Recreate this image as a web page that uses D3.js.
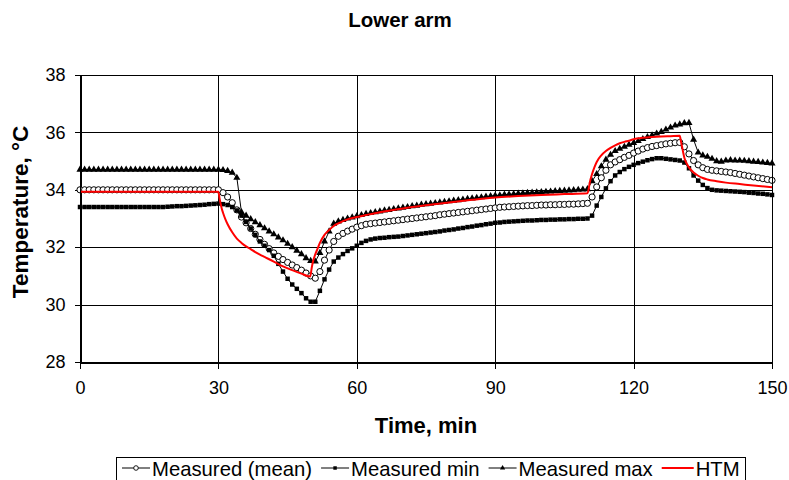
<!DOCTYPE html>
<html>
<head>
<meta charset="utf-8">
<script src="https://cdn.jsdelivr.net/npm/d3@7"></script>
<style>
  body { margin: 0; background: #fff; }
  svg { display: block; font-family: "Liberation Sans", Arial, sans-serif; }
</style>
</head>
<body>
<svg id="chart" width="789" height="480"></svg>
<script>
// ---- data ----
const minutes = d3.range(0, 151);
const xTicks = [0, 30, 60, 90, 120, 150];
const yTicks = [28, 30, 32, 34, 36, 38];

const measuredMean = [
  34.0,34.0,34.0,34.0,34.0,34.0,34.0,34.0,34.0,34.0,
  34.0,34.0,34.0,34.0,34.0,34.0,34.0,34.0,34.0,34.0,
  34.0,34.0,34.0,34.0,34.0,34.0,34.0,34.0,34.0,34.0,
  34.0,33.9,33.75,33.55,33.3,33.05,32.85,32.65,32.45,32.27,
  32.1,31.95,31.8,31.68,31.57,31.47,31.38,31.29,31.2,31.1,
  31.0,30.92,31.15,31.55,31.9,32.2,32.38,32.48,32.56,32.63,
  32.7,32.75,32.8,32.82,32.84,32.86,32.88,32.9,32.92,32.94,
  32.96,32.98,33.0,33.02,33.04,33.06,33.08,33.1,33.13,33.15,
  33.17,33.19,33.21,33.23,33.25,33.27,33.29,33.31,33.33,33.35,
  33.37,33.39,33.4,33.41,33.42,33.43,33.44,33.45,33.45,33.46,
  33.47,33.47,33.48,33.48,33.49,33.49,33.5,33.5,33.51,33.52,
  33.53,33.75,34.1,34.42,34.68,34.87,34.97,35.05,35.13,35.2,
  35.28,35.35,35.42,35.47,35.51,35.54,35.57,35.6,35.62,35.64,
  35.65,35.5,35.25,35.02,34.87,34.77,34.71,34.68,34.66,34.64,
  34.62,34.6,34.57,34.54,34.51,34.48,34.45,34.42,34.39,34.36,
  34.33
];

const measuredMin = [
  33.4,33.4,33.4,33.4,33.4,33.4,33.4,33.4,33.4,33.4,
  33.4,33.4,33.4,33.4,33.4,33.4,33.4,33.4,33.4,33.41,
  33.42,33.43,33.43,33.44,33.45,33.46,33.47,33.48,33.5,33.51,
  33.52,33.5,33.47,33.4,33.28,33.1,32.88,32.65,32.43,32.2,
  32.05,31.9,31.7,31.42,31.15,30.9,30.7,30.55,30.4,30.22,
  30.1,30.1,30.48,30.88,31.22,31.5,31.64,31.76,31.87,31.96,
  32.05,32.15,32.22,32.27,32.3,32.32,32.33,32.35,32.36,32.37,
  32.39,32.41,32.43,32.45,32.47,32.49,32.51,32.53,32.55,32.58,
  32.6,32.62,32.65,32.67,32.7,32.72,32.75,32.77,32.8,32.82,
  32.85,32.86,32.88,32.89,32.9,32.91,32.92,32.93,32.93,32.94,
  32.95,32.95,32.96,32.96,32.97,32.97,32.98,32.98,32.99,32.99,
  33.0,33.1,33.45,33.75,34.05,34.3,34.5,34.62,34.72,34.8,
  34.87,34.93,34.98,35.03,35.07,35.1,35.1,35.08,35.06,35.04,
  35.02,34.95,34.75,34.5,34.32,34.17,34.06,34.0,33.98,33.97,
  33.96,33.95,33.94,33.93,33.92,33.9,33.89,33.87,33.86,33.84,
  33.82
];

const measuredMax = [
  34.7,34.7,34.7,34.7,34.7,34.7,34.7,34.7,34.7,34.7,
  34.7,34.7,34.7,34.7,34.7,34.7,34.7,34.7,34.7,34.7,
  34.7,34.7,34.7,34.7,34.7,34.7,34.7,34.7,34.7,34.7,
  34.7,34.69,34.66,34.6,34.42,33.22,33.1,32.98,32.87,32.77,
  32.66,32.55,32.45,32.34,32.24,32.12,32.0,31.88,31.76,31.62,
  31.52,31.5,31.8,32.2,32.55,32.82,32.9,32.95,33.0,33.04,
  33.08,33.12,33.16,33.19,33.22,33.25,33.28,33.3,33.33,33.35,
  33.38,33.4,33.43,33.45,33.48,33.5,33.52,33.54,33.56,33.58,
  33.6,33.62,33.64,33.66,33.68,33.7,33.72,33.74,33.76,33.78,
  33.8,33.81,33.83,33.84,33.85,33.87,33.88,33.89,33.9,33.91,
  33.92,33.93,33.94,33.95,33.96,33.97,33.98,33.99,34.0,34.01,
  34.02,34.3,34.55,34.82,35.05,35.22,35.35,35.43,35.5,35.57,
  35.63,35.7,35.77,35.84,35.9,35.96,36.02,36.1,36.17,36.24,
  36.28,36.32,36.33,35.75,35.3,35.2,35.15,35.08,35.0,34.98,
  35.02,35.03,35.02,35.02,35.01,35.0,34.98,34.97,34.95,34.94,
  34.92
];

const htmTime = [
  0,10,20,30,30.25,30.5,30.75,31,31.5,32,33,34,35,36,37,38,39,40,42,44,46,48,49.9,
  50.25,50.5,51,51.5,52,53,54,55,56,57,58,60,62,65,70,75,80,85,90,95,100,105,110,
  110.25,110.5,111,111.5,112,113,114,115,116,117,118,119,120,122,124,126,128,130,
  130.25,130.5,130.75,131,131.5,132,133,134,135,136,138,140,143,146,150
];
const htmTemp = [
  33.93,33.93,33.93,33.93,33.7,33.5,33.33,33.2,32.98,32.8,32.52,32.3,32.15,32.03,31.93,31.83,31.74,31.66,31.5,31.33,31.2,31.08,30.98,
  31.3,31.5,31.75,31.95,32.15,32.43,32.6,32.74,32.83,32.91,32.97,33.05,33.12,33.22,33.35,33.46,33.56,33.65,33.73,33.78,33.82,33.85,33.88,
  34.02,34.25,34.55,34.78,34.97,35.2,35.35,35.46,35.55,35.62,35.67,35.71,35.76,35.81,35.84,35.86,35.87,35.88,
  35.7,35.5,35.3,35.12,34.92,34.78,34.6,34.49,34.41,34.36,34.3,34.25,34.2,34.15,34.09
];

const legendLabels = ["Measured (mean)", "Measured min", "Measured max", "HTM"];

// ---- layout ----
const svg = d3.select("#chart");
const W = 789, H = 480;
const m = { left: 80, right: 772, top: 75, bottom: 362 };

const x = d3.scaleLinear().domain([0, 150]).range([m.left, m.right]);
const y = d3.scaleLinear().domain([28, 38]).range([m.bottom, m.top]);

svg.append("rect").attr("width", W).attr("height", H).attr("fill", "#fff");

// title
svg.append("text").attr("x", 400).attr("y", 27).attr("text-anchor", "middle")
  .attr("font-weight", "bold").attr("font-size", 20.5).text("Lower arm");

// gridlines
const grid = svg.append("g").attr("shape-rendering", "crispEdges");
grid.selectAll("line.h").data(yTicks).join("line")
  .attr("x1", m.left).attr("x2", m.right)
  .attr("y1", d => Math.round(y(d)) + 0.5).attr("y2", d => Math.round(y(d)) + 0.5)
  .attr("stroke", "#000").attr("stroke-width", 1);
grid.selectAll("line.v").data(xTicks).join("line")
  .attr("y1", m.top).attr("y2", m.bottom)
  .attr("x1", d => Math.round(x(d)) + 0.5).attr("x2", d => Math.round(x(d)) + 0.5)
  .attr("stroke", "#000").attr("stroke-width", 1);

// axes
const xAxis = d3.axisBottom(x).tickValues(xTicks).tickSize(6).tickPadding(13).tickFormat(d3.format("d"));
const yAxis = d3.axisLeft(y).tickValues(yTicks).tickSize(6).tickPadding(9).tickFormat(d3.format("d"));
const gx = svg.append("g").attr("transform", `translate(0,${Math.round(m.bottom) + 0.5})`).call(xAxis);
const gy = svg.append("g").attr("transform", `translate(${Math.round(m.left) + 0.5},0)`).call(yAxis);
[gx, gy].forEach(g => {
  g.select(".domain").attr("stroke", "#000").attr("shape-rendering", "crispEdges");
  g.selectAll(".tick line").attr("stroke", "#000").attr("shape-rendering", "crispEdges");
  g.selectAll(".tick text").attr("font-size", 18).attr("fill", "#000")
    .attr("font-family", "'Liberation Sans', Arial, sans-serif");
});

// axis titles
svg.append("text").attr("x", (m.left + m.right) / 2).attr("y", 433).attr("text-anchor", "middle")
  .attr("font-weight", "bold").attr("font-size", 22).text("Time, min");
svg.append("text").attr("transform", `translate(28,212) rotate(-90)`)
  .attr("text-anchor", "middle").attr("font-weight", "bold").attr("font-size", 22.5)
  .text("Temperature, °C");

// series
const line = d3.line().x(d => x(d[0])).y(d => y(d[1]));
const sq = d3.symbol().type(d3.symbolSquare).size(20);
const tri = d3.symbol().type(d3.symbolTriangle).size(22);

function drawSeries(vals, kind) {
  const pts = minutes.map((t, i) => [t, vals[i]]);
  const g = svg.append("g");
  g.append("path").attr("d", line(pts)).attr("fill", "none").attr("stroke", "#000").attr("stroke-width", 1);
  if (kind === "circle") {
    g.selectAll("circle").data(pts).join("circle")
      .attr("cx", d => x(d[0])).attr("cy", d => y(d[1])).attr("r", 3.1)
      .attr("fill", "#fff").attr("stroke", "#000").attr("stroke-width", 1);
  } else {
    g.selectAll("path.m").data(pts).join("path").attr("class", "m")
      .attr("d", kind === "square" ? sq : tri)
      .attr("transform", d => `translate(${x(d[0])},${y(d[1])})`)
      .attr("fill", "#000");
  }
}
drawSeries(measuredMean, "circle");
drawSeries(measuredMin, "square");
drawSeries(measuredMax, "triangle");

const htmPts = htmTime.map((t, i) => [t, htmTemp[i]]);
svg.append("path").attr("d", d3.line().x(d => x(d[0])).y(d => y(d[1])).curve(d3.curveMonotoneX)(htmPts))
  .attr("fill", "none").attr("stroke", "#ff0000").attr("stroke-width", 2);

// plot border
svg.append("rect").attr("x", Math.round(m.left) + 0.5).attr("y", Math.round(m.top) + 0.5)
  .attr("width", Math.round(m.right) - Math.round(m.left)).attr("height", Math.round(m.bottom) - Math.round(m.top))
  .attr("fill", "none").attr("stroke", "#000").attr("shape-rendering", "crispEdges");

// legend
const lg = svg.append("g");
const legBox = { x: 116, y: 457, w: 629, h: 40 };
lg.append("rect").attr("x", legBox.x + 0.5).attr("y", legBox.y + 0.5).attr("width", legBox.w).attr("height", legBox.h)
  .attr("fill", "#fff").attr("stroke", "#000").attr("shape-rendering", "crispEdges");
let cx = legBox.x + 6;
const ly = 468;
legendLabels.forEach((lab, i) => {
  const sw = i === 3 ? 32 : 28;
  const col = i === 3 ? "#ff0000" : "#000";
  lg.append("line").attr("x1", cx).attr("x2", cx + sw).attr("y1", ly).attr("y2", ly)
    .attr("stroke", col).attr("stroke-width", i === 3 ? 2 : 1);
  const mx = cx + sw / 2;
  if (i === 0) lg.append("circle").attr("cx", mx).attr("cy", ly).attr("r", 2.3).attr("fill", "#fff").attr("stroke", "#000").attr("stroke-width", 0.9);
  if (i === 1) lg.append("path").attr("d", d3.symbol().type(d3.symbolSquare).size(12)).attr("transform", `translate(${mx},${ly})`);
  if (i === 2) lg.append("path").attr("d", d3.symbol().type(d3.symbolTriangle).size(12)).attr("transform", `translate(${mx},${ly})`);
  const t = lg.append("text").attr("x", cx + sw + 2).attr("y", ly + 8).attr("font-size", 20.3).text(lab);
  cx += sw + 2 + t.node().getComputedTextLength() + 9;
});
</script>
</body>
</html>
